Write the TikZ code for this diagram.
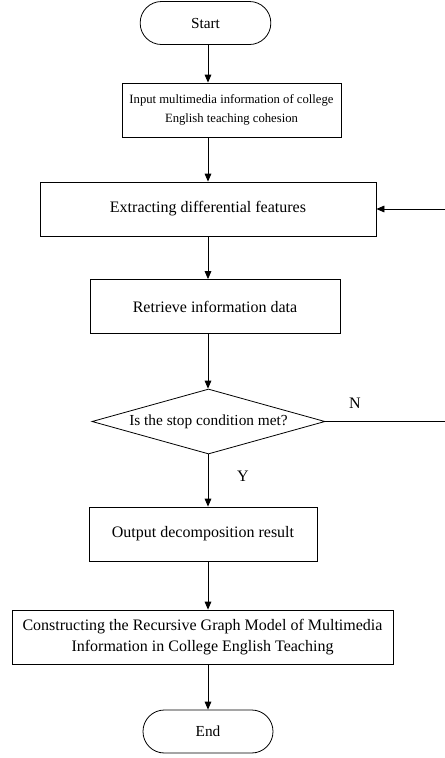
\documentclass[tikz,border=0pt]{standalone}
\usepackage{fontspec}
\setmainfont{Liberation Serif}
\usetikzlibrary{shapes,arrows.meta,positioning}

\begin{document}
\begin{tikzpicture}[x=0.75pt,y=-0.75pt,
  every node/.style={font=\fontsize{12}{15.5}\selectfont},
  box/.style={draw, rectangle, line width=0.6pt, minimum height=40.5pt, align=center, inner sep=2pt},
  term/.style={draw, rectangle, rounded corners=16pt, line width=0.6pt, minimum width=98pt, minimum height=32.25pt, font=\fontsize{11.5}{14}\selectfont},
  decision/.style={draw, diamond, aspect=5, inner sep=0pt, line width=0.6pt, minimum width=174.75pt, minimum height=48.75pt, font=\fontsize{11.5}{14}\selectfont},
  flow/.style={line width=0.6pt, -{Triangle[length=6pt,width=5pt]}}]
\useasboundingbox (0,0) rectangle (445,758);
\coordinate (spine) at (208,0);

\node (start) [term] at (205.5,23) {Start};
\node (input) [box, minimum width=164.25pt, font=\fontsize{9.5}{14.5}\selectfont] at (231.5,110) {Input multimedia information of college\\English teaching cohesion};
\node (extract) [box, minimum width=252pt] at (208,209) {Extracting differential features};
\node (retrieve) [box, minimum width=187.5pt] at (215,306.5) {Retrieve information data};
\node (stop) [decision] at (208.5,421.5) {Is the stop condition met?};
\node (output) [box, minimum width=171pt] at (203,534) {Output decomposition result};
\node (model) [box, minimum width=285.75pt] at (202.5,637) {Constructing the Recursive Graph Model of Multimedia\\Information in College English Teaching};
\node (end) [term, minimum width=97.5pt] at (208,731.5) {End};

\node (no) at (355,403) {N};
\node (yes) at (243,476) {Y};
\coordinate (back) at (445,421.5);

\draw [flow] (start.south -| spine) -- (input.north -| spine);
\draw [flow] (input.south -| spine) -- (extract.north -| spine);
\draw [flow] (extract.south -| spine) -- (retrieve.north -| spine);
\draw [flow] (retrieve.south -| spine) -- (stop.north -| spine);
\draw [flow] (stop.south -| spine) -- (output.north -| spine);
\draw [flow] (output.south -| spine) -- (model.north -| spine);
\draw [flow] (model.south -| spine) -- (end.north -| spine);
\draw [flow] (stop.east) -- (back) -- (back |- extract.east) -- (extract.east);
\end{tikzpicture}
\end{document}
